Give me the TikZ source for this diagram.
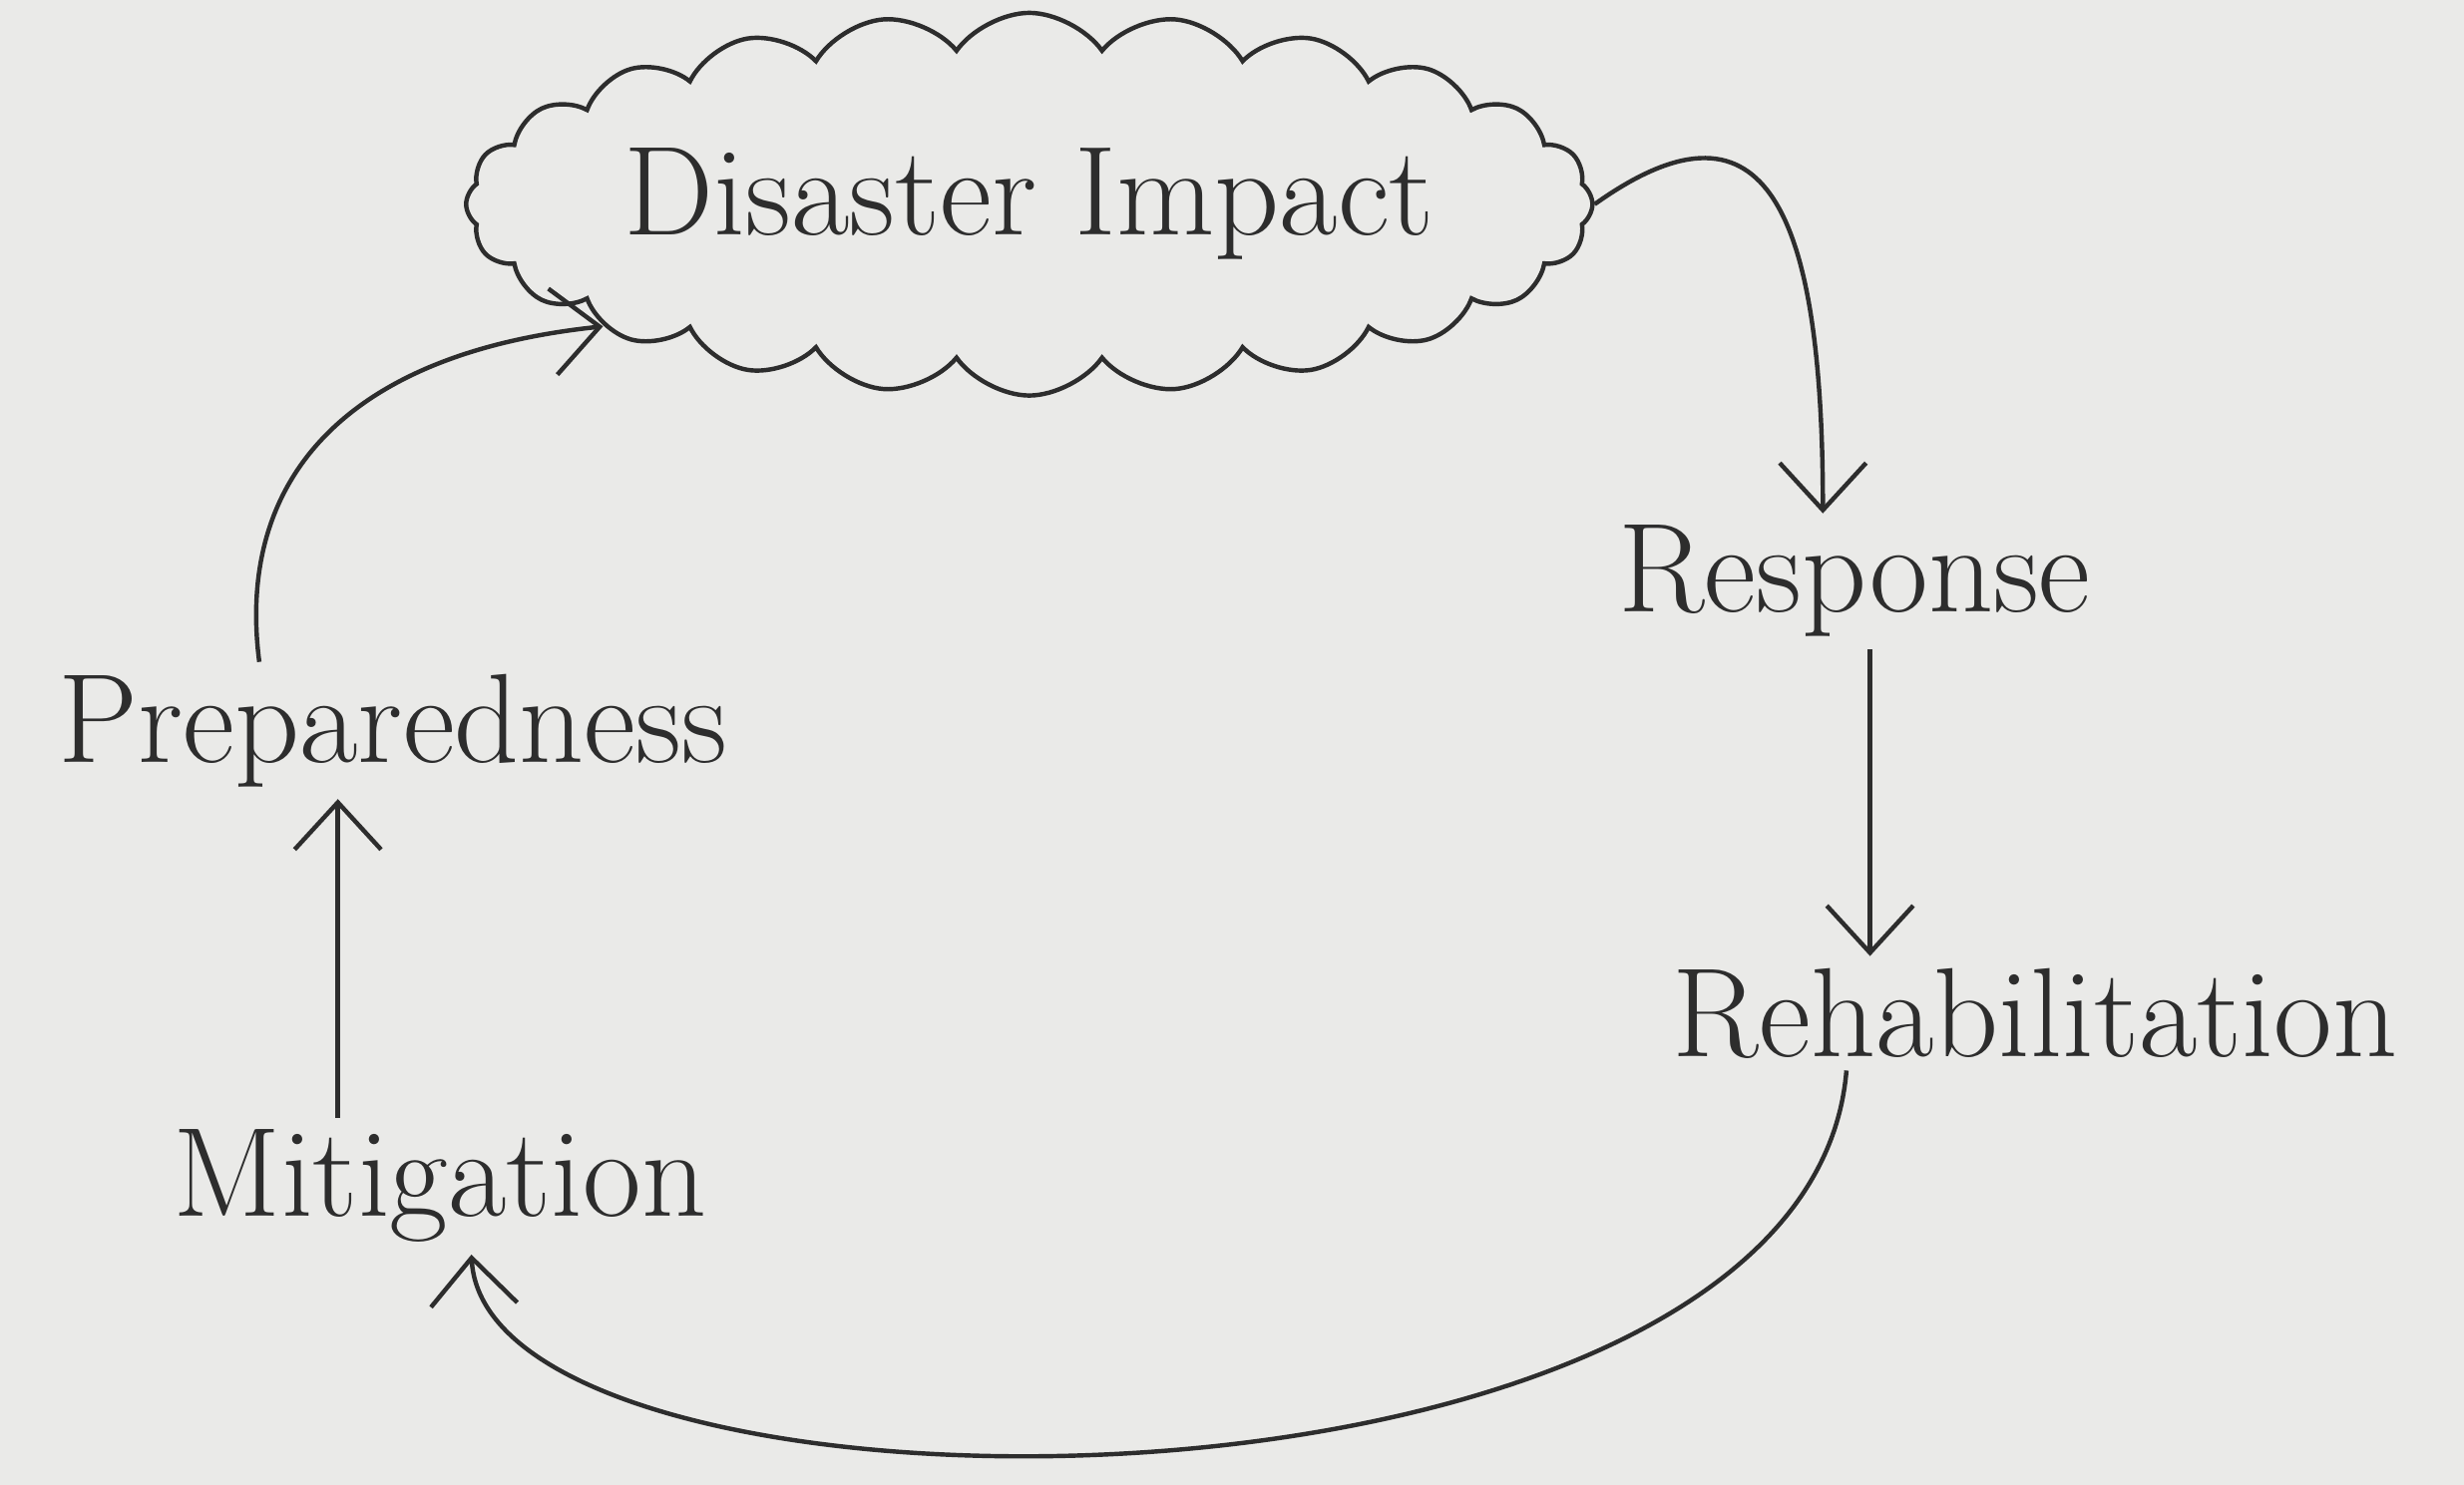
\documentclass[tikz,border=0pt]{standalone}
\usepackage{tikz}
\usetikzlibrary{shapes.symbols,arrows.meta}

\definecolor{paper}{RGB}{234,234,232}
\definecolor{pen}{RGB}{45,45,45}

\tikzset{
    stage/.style={text=pen, font=\fontsize{23}{27}\selectfont, inner sep=2pt},
    flow/.style={thick, draw=pen, ->, >={Straight Barb[length=3mm,width=5.5mm]}}
}

\begin{document}
\begin{tikzpicture}
    % Paper
    \fill[paper] (0,0) rectangle (15.68,9.45);
    \useasboundingbox (0,0) rectangle (15.68,9.45);

    % Stages
    \node[stage, cloud, draw=pen, thick, cloud puffs=24, cloud puff arc=110,
          aspect=3.6, inner xsep=-2pt, inner ysep=4pt] (impact) at (6.55,8.15) {Disaster Impact};
    \node[stage] (response) at (11.8,5.75) {Response};
    \node[stage] (rehab) at (12.95,3.0) {Rehabilitation};
    \node[stage] (mitig) at (2.8,1.9) {Mitigation};
    \node[stage] (prep) at (2.5,4.8) {Preparedness};

    % Cycle
    \draw[flow] (impact.east) .. controls (11.2,8.9) and (11.6,8.2) .. ([xshift=-2mm]response.north);
    \draw[flow] ([xshift=1mm]response.south) -- ([xshift=1mm]response.south |- rehab.north);
    \draw[flow] ([xshift=-1.2cm]rehab.south) .. controls (11.5,-0.4) and (3.1,-0.4) .. ([xshift=2mm]mitig.south);
    \draw[flow] ([xshift=-6.5mm]mitig.north) -- ([xshift=-6.5mm]mitig.north |- prep.south);
    \draw[flow] ([xshift=-8.5mm]prep.north) .. controls (1.5,6.4) and (2.2,7.2) .. (impact.196);
\end{tikzpicture}
\end{document}
